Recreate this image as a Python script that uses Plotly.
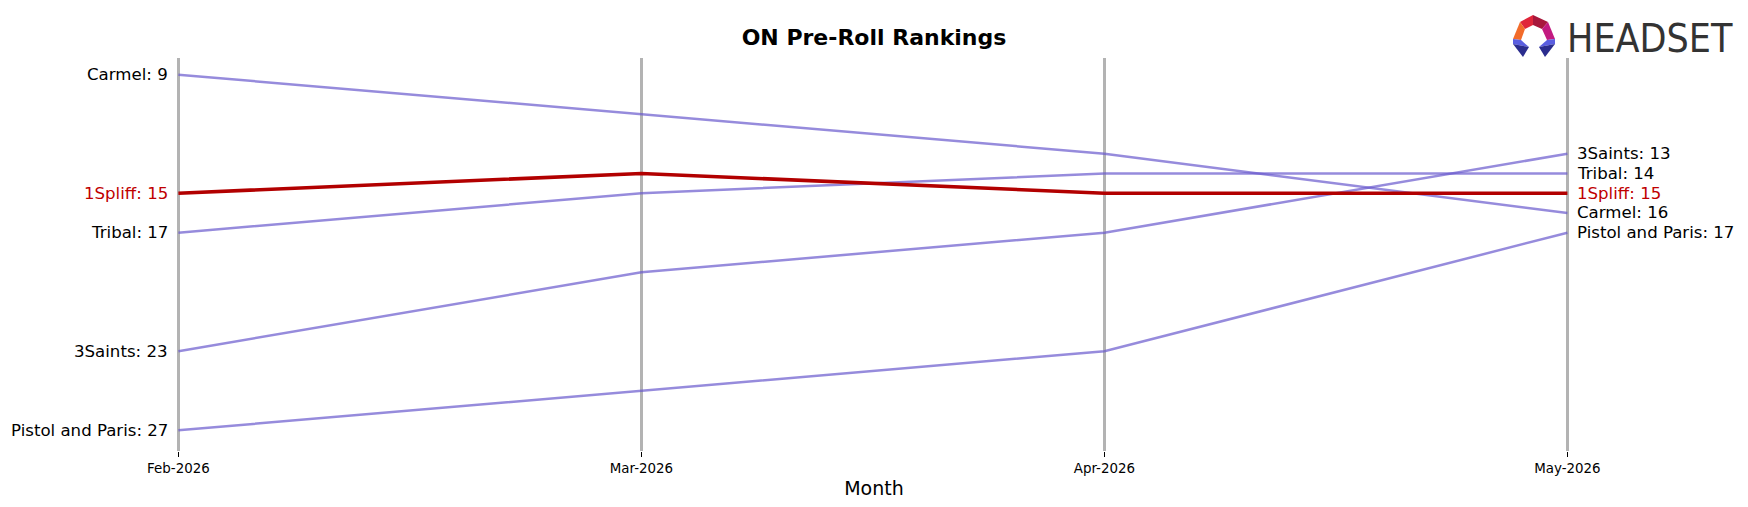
import plotly.graph_objects as go

months = ["Feb-2026", "Mar-2026", "Apr-2026", "May-2026"]
brands = ["Carmel", "Tribal", "3Saints", "Pistol and Paris", "1Spliff"]
ranks = {
    "Carmel": [9, 11, 13, 16],
    "Tribal": [17, 15, 14, 14],
    "3Saints": [23, 19, 17, 13],
    "Pistol and Paris": [27, 25, 23, 17],
    "1Spliff": [15, 14, 15, 15],
}
highlight = "1Spliff"

W, H = 1748, 507
ML, MR, MT, MB = 160, 160, 58, 56
PW, PH = W - ML - MR, H - MT - MB

PURPLE = "rgba(106,90,205,0.7)"
RED = "#b20000"
RED_TXT = "#c00000"

xs = list(range(len(months)))
fig = go.Figure()
for b in brands:
    hl = b == highlight
    fig.add_trace(go.Scatter(
        x=xs, y=ranks[b], mode="lines",
        line=dict(color=RED if hl else PURPLE, width=3.6 if hl else 2.5),
        hoverinfo="skip", showlegend=False))

annos = []
for b in brands:
    hl = b == highlight
    col = RED_TXT if hl else "black"
    annos.append(dict(x=xs[0], y=ranks[b][0], xref="x", yref="y",
                      text=f"{b}: {ranks[b][0]}", showarrow=False,
                      xanchor="right", yanchor="middle", xshift=-8,
                      font=dict(size=16.6, color=col, family="DejaVu Sans")))
    annos.append(dict(x=xs[-1], y=ranks[b][-1], xref="x", yref="y",
                      text=f"{b}: {ranks[b][-1]}", showarrow=False,
                      xanchor="left", yanchor="middle", xshift=8,
                      font=dict(size=16.6, color=col, family="DejaVu Sans")))

def px2paper(px, py):
    return (px - ML) / PW, (H - MB - py) / PH

# Logo text
lx, ly = px2paper(1565, 38)
annos.append(dict(x=lx, y=ly, xref="paper", yref="paper", text="HEADSET",
                  showarrow=False, xanchor="left", yanchor="middle",
                  font=dict(size=39, color="#333333", family="DejaVu Sans Condensed")))

facets = [
    ([(1533, 15), (1520, 22), (1525, 29), (1533, 25)], "#e0263a"),
    ([(1533, 15), (1548, 22), (1542, 29), (1533, 25)], "#a8183c"),
    ([(1520, 22), (1513, 39), (1521, 40), (1525, 29)], "#f26b2a"),
    ([(1548, 22), (1555, 39), (1547, 40), (1542, 29)], "#c21a80"),
    ([(1513, 39), (1521, 40), (1529, 47), (1513, 44)], "#5a5ee0"),
    ([(1513, 44), (1529, 47), (1523, 57)], "#2b2d8e"),
    ([(1555, 39), (1547, 40), (1539, 47), (1555, 44)], "#5a5ee0"),
    ([(1555, 44), (1539, 47), (1545, 57)], "#2b2d8e"),
]
shapes = []
for pts, c in facets:
    pp = [px2paper(a, b) for a, b in pts]
    path = "M " + " L ".join(f"{a:.5f},{b:.5f}" for a, b in pp) + " Z"
    shapes.append(dict(type="path", path=path, xref="paper", yref="paper",
                       fillcolor=c, line=dict(width=0), layer="above"))

fig.update_layout(
    width=W, height=H,
    margin=dict(l=ML, r=MR, t=MT, b=MB),
    paper_bgcolor="white", plot_bgcolor="white",
    title=dict(text="<b>ON Pre-Roll Rankings</b>", x=0.5, xanchor="center",
               y=1 - 37 / H, yanchor="middle",
               font=dict(size=22, color="black", family="DejaVu Sans")),
    xaxis=dict(range=[-18.4 / 463, 3 + 20.6 / 463], tickvals=xs, ticktext=months,
               showgrid=True, gridcolor="#b3b3b3", gridwidth=3,
               zeroline=False, showline=False,
               ticks="outside", ticklen=5, tickwidth=1, tickcolor="black",
               tickfont=dict(size=13.4, color="black", family="DejaVu Sans"),
               title=dict(text="Month", standoff=6,
                          font=dict(size=19, color="black", family="DejaVu Sans"))),
    yaxis=dict(range=[28.05, 8.155], showgrid=False, zeroline=False,
               showline=False, showticklabels=False, ticks=""),
    annotations=annos, shapes=shapes,
)

fig.write_html("out.html")
